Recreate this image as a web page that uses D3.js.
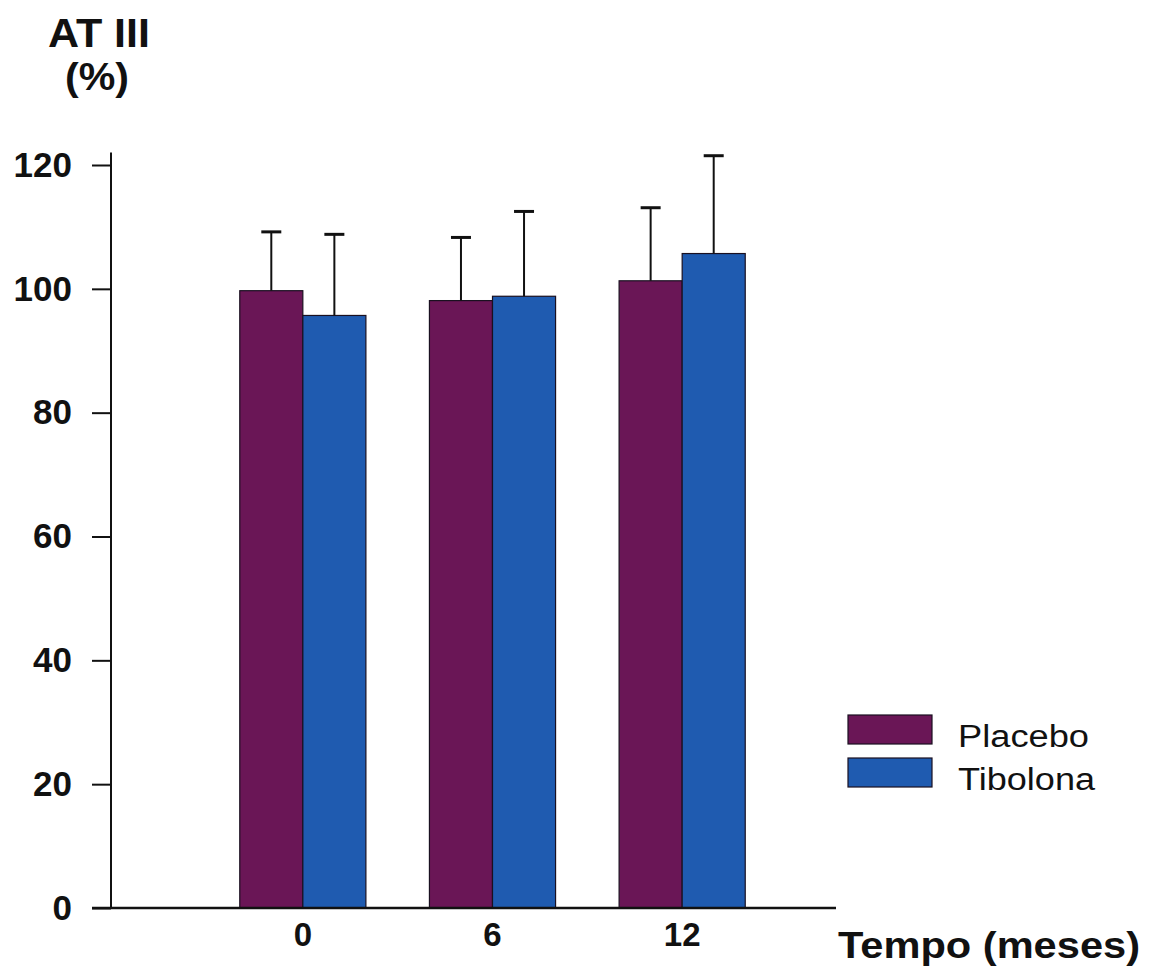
<!DOCTYPE html>
<html>
<head>
<meta charset="utf-8">
<script src="https://cdn.jsdelivr.net/npm/d3@7"></script>
<style>
  html, body { margin: 0; padding: 0; background: #fff; }
  svg { display: block; font-family: "Liberation Sans", Arial, sans-serif; }
</style>
</head>
<body>
<svg id="chart" width="1155" height="973"></svg>
<script>
// AT III (%) by time point and treatment group, mean and SD
const months = ["0", "6", "12"];
const seriesNames = ["Placebo", "Tibolona"];
const placeboMean = [99.7, 98.1, 101.3];
const placeboSD = [9.5, 10.2, 11.8];
const tibolonaMean = [95.7, 98.8, 105.7];
const tibolonaSD = [13.1, 13.7, 15.8];
const yTicks = [0, 20, 40, 60, 80, 100, 120];
const colors = ["#6a1656", "#1f5bb0"];

const rows = months.map((m, i) => ({
  month: m,
  values: [
    { series: seriesNames[0], mean: placeboMean[i], sd: placeboSD[i], color: colors[0] },
    { series: seriesNames[1], mean: tibolonaMean[i], sd: tibolonaSD[i], color: colors[1] }
  ]
}));

const svg = d3.select("#chart");

const y = d3.scaleLinear().domain([0, 120]).range([908, 165]);
const x = d3.scaleBand().domain(months).range([208, 777]).paddingInner(0.335).paddingOuter(0.1675);
const xs = d3.scaleBand().domain(seriesNames).range([0, x.bandwidth()]);

// Bars
const groups = svg.append("g").selectAll("g").data(rows).join("g")
  .attr("transform", d => `translate(${x(d.month)},0)`);

groups.selectAll("rect").data(d => d.values).join("rect")
  .attr("x", d => xs(d.series))
  .attr("y", d => y(d.mean))
  .attr("width", xs.bandwidth())
  .attr("height", d => y(0) - y(d.mean))
  .attr("fill", d => d.color)
  .attr("stroke", "#1a1020")
  .attr("stroke-width", 1.2);

// Error bars (upper only)
const err = groups.selectAll("g.err").data(d => d.values).join("g").attr("class", "err");
err.append("line")
  .attr("x1", d => xs(d.series) + xs.bandwidth() / 2)
  .attr("x2", d => xs(d.series) + xs.bandwidth() / 2)
  .attr("y1", d => y(d.mean))
  .attr("y2", d => y(d.mean + d.sd))
  .attr("stroke", "#111").attr("stroke-width", 2);
err.append("line")
  .attr("x1", d => xs(d.series) + xs.bandwidth() / 2 - 10)
  .attr("x2", d => xs(d.series) + xs.bandwidth() / 2 + 10)
  .attr("y1", d => y(d.mean + d.sd))
  .attr("y2", d => y(d.mean + d.sd))
  .attr("stroke", "#111").attr("stroke-width", 3);

// Y axis
const yAxis = d3.axisLeft(y).tickValues(yTicks).tickSize(19).tickPadding(20).tickSizeOuter(0);
const gy = svg.append("g").attr("transform", "translate(111,0)").call(yAxis);
gy.select(".domain").remove();
gy.selectAll(".tick line").attr("stroke", "#111").attr("stroke-width", 2);
gy.selectAll(".tick text")
  .attr("font-size", 35).attr("font-weight", "bold").attr("fill", "#111")
  .attr("font-family", "'Liberation Sans', Arial, sans-serif");
svg.append("line")
  .attr("x1", 111).attr("x2", 111)
  .attr("y1", y(0)).attr("y2", y(122))
  .attr("stroke", "#111").attr("stroke-width", 2);

// X axis
svg.append("line")
  .attr("x1", 92).attr("x2", 836)
  .attr("y1", y(0)).attr("y2", y(0))
  .attr("stroke", "#111").attr("stroke-width", 2.5);
const xAxis = d3.axisBottom(x).tickSize(0).tickPadding(15);
const gx = svg.append("g").attr("transform", `translate(0,${y(0)})`).call(xAxis);
gx.select(".domain").remove();
gx.selectAll(".tick text")
  .attr("font-size", 33).attr("font-weight", "bold").attr("fill", "#111")
  .attr("font-family", "'Liberation Sans', Arial, sans-serif");

// Axis titles
svg.append("text").attr("x", 99).attr("y", 47).attr("text-anchor", "middle")
  .attr("font-size", 40).attr("font-weight", "bold").attr("fill", "#111")
  .attr("textLength", 102).attr("lengthAdjust", "spacingAndGlyphs").text("AT III");
svg.append("text").attr("x", 97).attr("y", 90).attr("text-anchor", "middle")
  .attr("font-size", 39).attr("font-weight", "bold").attr("fill", "#111")
  .attr("textLength", 64).attr("lengthAdjust", "spacingAndGlyphs").text("(%)");
svg.append("text").attr("x", 838).attr("y", 958)
  .attr("font-size", 37).attr("font-weight", "bold").attr("fill", "#111")
  .attr("textLength", 302).attr("lengthAdjust", "spacingAndGlyphs").text("Tempo (meses)");

// Legend
const legend = svg.append("g").selectAll("g").data(seriesNames).join("g")
  .attr("transform", (d, i) => `translate(848,${715 + i * 43})`);
legend.append("rect")
  .attr("width", 84).attr("height", 29)
  .attr("fill", (d, i) => colors[i])
  .attr("stroke", "#1a1020").attr("stroke-width", 1.2);
legend.append("text")
  .attr("x", 110).attr("y", 32)
  .attr("font-size", 31).attr("fill", "#111")
  .attr("textLength", (d, i) => i === 0 ? 131 : 137).attr("lengthAdjust", "spacingAndGlyphs")
  .text(d => d);
</script>
</body>
</html>
